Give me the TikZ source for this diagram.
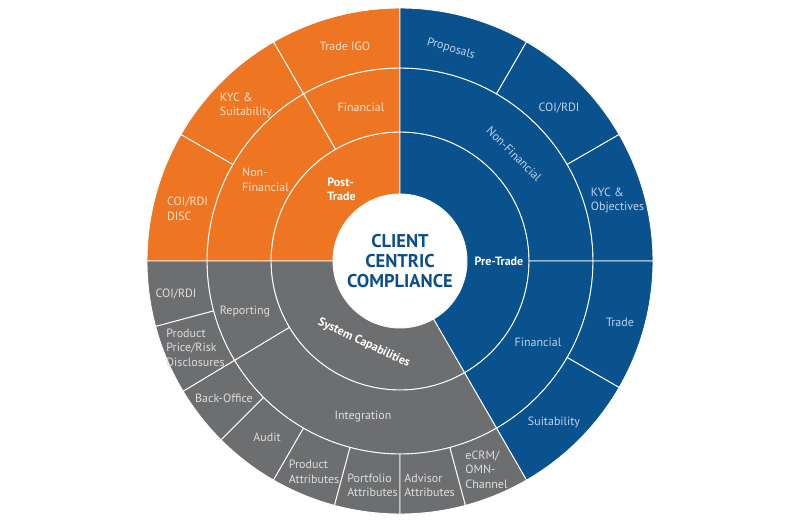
\documentclass[tikz,border=0pt]{standalone}
\usepackage{fontspec}
\setmainfont{PT Sans}
\definecolor{ccorange}{HTML}{EE7623}
\definecolor{ccblue}{HTML}{0A528E}
\definecolor{ccgray}{HTML}{6D6E70}
\definecolor{ccpeach}{HTML}{FCE1CD}
\definecolor{ccsky}{HTML}{BCD2EA}
\definecolor{ccsilver}{HTML}{DEDEDE}
\definecolor{ccnavy}{HTML}{0B4E8A}
\tikzset{seg/.style={draw=white,line width=0.9pt},
         lbl/.style={align=center,inner sep=0pt,font=\fontsize{12}{14.5}\selectfont},
         left lbl/.style={lbl,align=left},
         key lbl/.style={lbl,align=left,text=white,font=\fontsize{12}{14.5}\selectfont\bfseries},
         title lbl/.style={align=center,inner sep=0pt,text=ccnavy,font=\fontsize{18.5}{20}\selectfont\bfseries},
}
% colour, start angle, end angle, inner radius, outer radius
\newcommand{\sector}[5]{\fill[#1,seg] (#2:#4) arc[start angle=#2,end angle=#3,radius=#4]
    -- (#3:#5) arc[start angle=#3,end angle=#2,radius=#5] -- cycle;}
\begin{document}
\begin{tikzpicture}[x=1pt,y=1pt]
\useasboundingbox (-400,-262) rectangle (400,261);

% inner ring
\sector{ccorange}{90}{180}{67}{129}
\sector{ccblue}{-60}{90}{67}{129}
\sector{ccgray}{180}{300}{67}{129}

% middle ring
\sector{ccorange}{90}{120}{129}{193}
\sector{ccorange}{120}{180}{129}{193}
\sector{ccblue}{0}{90}{129}{193}
\sector{ccblue}{-60}{0}{129}{193}
\sector{ccgray}{180}{211}{129}{193}
\sector{ccgray}{211}{300}{129}{193}

% outer ring
\foreach \a/\b in {90/120,120/150,150/180}
    {\sector{ccorange}{\a}{\b}{193}{253}}
\foreach \a/\b in {60/90,30/60,0/30,-30/0,-60/-30}
    {\sector{ccblue}{\a}{\b}{193}{253}}
\foreach \a/\b in {180/195,195/211,211/225,225/240,240/255,255/270,270/285,285/300}
    {\sector{ccgray}{\a}{\b}{193}{253}}

% centre
\node[title lbl] (title) at (0,0) {CLIENT\\CENTRIC\\COMPLIANCE};

% post-trade
\node[key lbl] (post) at (-58.5,71.5) {Post-\\Trade};
\node[lbl,text=ccpeach] (postfin) at (-39,154) {Financial};
\node[left lbl,text=ccpeach] (postnonfin) at (-134.5,81) {Non-\\Financial};
\node[lbl,text=ccpeach] (tradeigo) at (-55,215) {Trade IGO};
\node[left lbl,text=ccpeach] (kycsuit) at (-154,155.5) {KYC \&\\Suitability};
\node[left lbl,text=ccpeach] (coidisc) at (-212.5,52) {COI/RDI\\DISC};

% pre-trade
\node[key lbl] (pre) at (99,0) {Pre-Trade};
\node[lbl,text=ccsky,rotate=-45] (prenonfin) at (114,107) {Non-Financial};
\node[lbl,text=ccsky] (prefin) at (138,-81) {Financial};
\node[lbl,text=ccsky,rotate=-16] (proposals) at (51,212) {Proposals};
\node[lbl,text=ccsky] (precoi) at (159,153) {COI/RDI};
\node[left lbl,text=ccsky] (kycobj) at (217.5,60.5) {KYC \&\\Objectives};
\node[lbl,text=ccsky] (trade) at (220,-61) {Trade};
\node[lbl,text=ccsky] (suit) at (154,-161) {Suitability};

% system capabilities
\node[key lbl,rotate=-25] (sys) at (-36,-82) {System Capabilities};
\node[lbl,text=ccsilver] (reporting) at (-155,-51) {Reporting};
\node[lbl,text=ccsilver] (integration) at (-37,-156) {Integration};
\node[lbl,text=ccsilver] (syscoi) at (-224,-33) {COI/RDI};
\node[left lbl,text=ccsilver] (disclose) at (-204.5,-86.5) {Product\\Price/Risk\\Disclosures};
\node[lbl,text=ccsilver] (backoffice) at (-176,-137) {Back-Office};
\node[lbl,text=ccsilver] (audit) at (-133,-176) {Audit};
\node[left lbl,text=ccsilver] (prodattr) at (-86,-211) {Product\\Attributes};
\node[left lbl,text=ccsilver] (portattr) at (-27.5,-224.5) {Portfolio\\Attributes};
\node[left lbl,text=ccsilver] (advattr) at (29.5,-224.5) {Advisor\\Attributes};
\node[left lbl,text=ccsilver] (ecrm) at (86.5,-208.5) {eCRM/\\OMN-\\Channel};
\end{tikzpicture}
\end{document}
